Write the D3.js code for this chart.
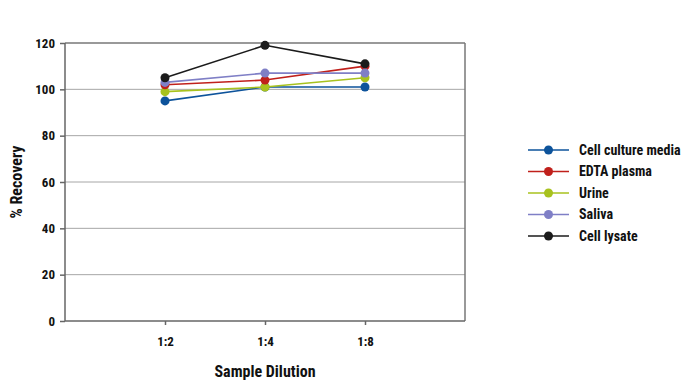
<!DOCTYPE html>
<html>
<head>
<meta charset="utf-8">
<script src="https://cdn.jsdelivr.net/npm/d3@7"></script>
<style>
  body { margin: 0; background: #fff; }
  text { font-family: Roboto, sans-serif; font-stretch: condensed; font-weight: bold; fill: #111; }
</style>
</head>
<body>
<div id="chart"></div>
<script>
// data
var dilutions = ["1:2", "1:4", "1:8"];
var seriesNames = ["Cell culture media", "EDTA plasma", "Urine", "Saliva", "Cell lysate"];
var cellCulture = [95, 101, 101];
var edtaPlasma = [102, 104, 110];
var urine = [99, 101, 105];
var saliva = [103, 107, 107];
var cellLysate = [105, 119, 111];
var yTicks = [0, 20, 40, 60, 80, 100, 120];
var colors = ["#0d539b", "#c0201b", "#a8c21e", "#7f7fc6", "#1b1b1b"];

var allSeries = [cellCulture, edtaPlasma, urine, saliva, cellLysate];
// draw order: matches stacking seen in the picture (lysate on top)
var drawOrder = [0, 2, 1, 3, 4];

var W = 694, H = 386;
var margin = {top: 43, right: 229, bottom: 65, left: 65};
var width = W - margin.left - margin.right, height = H - margin.top - margin.bottom;

var svg = d3.select("#chart").append("svg")
    .attr("width", W)
    .attr("height", H);

var g = svg.append("g").attr("transform", "translate(" + margin.left + "," + margin.top + ")");

var x = d3.scalePoint().domain(dilutions).range([0, width]).padding(1);
var y = d3.scaleLinear().domain([0, 120]).range([height, 0]);

// gridlines
g.selectAll(".grid").data(yTicks.filter(function (d) { return d > 0; }))
    .enter().append("line")
    .attr("class", "grid")
    .attr("x1", 0).attr("x2", width)
    .attr("y1", function (d) { return y(d); })
    .attr("y2", function (d) { return y(d); })
    .style("stroke", function (d) { return d === 120 ? "#777" : "#a6a6a6"; })
    .style("stroke-width", function (d) { return d === 120 ? 1.5 : 1; });

// right border
g.append("line")
    .attr("x1", width).attr("x2", width)
    .attr("y1", 0).attr("y2", height)
    .style("stroke", "#777").style("stroke-width", 1.5);

// axes
var yAxis = g.append("g").attr("class", "axis axis--y")
    .call(d3.axisLeft(y).tickValues(yTicks).tickSize(5).tickPadding(5));
var xAxis = g.append("g").attr("class", "axis axis--x")
    .attr("transform", "translate(0," + height + ")")
    .call(d3.axisBottom(x).tickSize(4).tickPadding(12));

svg.selectAll(".axis path, .axis line").style("stroke", "#666").style("stroke-width", 1.5);
svg.selectAll(".axis text")
    .style("font-family", "Roboto, sans-serif")
    .style("font-weight", "bold")
    .style("font-size", "13px")
    .style("fill", "#111");
yAxis.select(".domain").attr("d", "M0,0V" + height);
xAxis.select(".domain").attr("d", "M0,0H" + width);

// axis titles
g.append("text")
    .attr("transform", "rotate(-90)")
    .attr("x", -height / 2)
    .attr("y", -margin.left + 22)
    .attr("text-anchor", "middle")
    .style("font-size", "16px")
    .text("% Recovery");

g.append("text")
    .attr("x", width / 2)
    .attr("y", height + 56)
    .attr("text-anchor", "middle")
    .style("font-size", "16px")
    .text("Sample Dilution");

// lines and markers
var line = d3.line()
    .x(function (d, i) { return x(dilutions[i]); })
    .y(function (d) { return y(d); });

drawOrder.forEach(function (s) {
    var vals = allSeries[s];
    g.append("path")
        .datum(vals)
        .attr("d", line)
        .style("fill", "none")
        .style("stroke", colors[s])
        .style("stroke-width", 1.6);
    g.selectAll(".dot" + s).data(vals)
        .enter().append("circle")
        .attr("class", "dot" + s)
        .attr("cx", function (d, i) { return x(dilutions[i]); })
        .attr("cy", function (d) { return y(d); })
        .attr("r", 4.5)
        .style("fill", colors[s]);
});

// legend
var legend = svg.append("g").attr("transform", "translate(528,150)");
var rows = legend.selectAll(".lg").data(seriesNames)
    .enter().append("g")
    .attr("class", "lg")
    .attr("transform", function (d, i) { return "translate(0," + (i * 21.5) + ")"; });
rows.append("line")
    .attr("x1", 0).attr("x2", 41)
    .style("stroke", function (d, i) { return colors[i]; })
    .style("stroke-width", 1.6);
rows.append("circle")
    .attr("cx", 20.5).attr("r", 4.5)
    .style("fill", function (d, i) { return colors[i]; });
rows.append("text")
    .attr("x", 51)
    .attr("dy", "0.35em")
    .style("font-size", "14px")
    .text(function (d) { return d; });
</script>
</body>
</html>
